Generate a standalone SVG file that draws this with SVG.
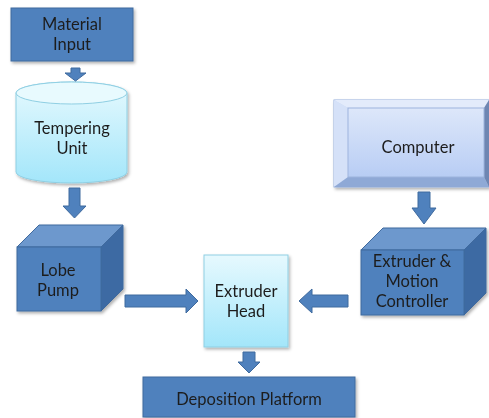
<svg xmlns="http://www.w3.org/2000/svg" width="489" height="418" viewBox="0 0 489 418">
  <defs>
    <linearGradient id="cyanFill" x1="0" y1="0" x2="0" y2="1">
      <stop offset="0" stop-color="#E6F9FE"/>
      <stop offset="1" stop-color="#A3E6FA"/>
    </linearGradient>
    <linearGradient id="lavFill" x1="0" y1="0" x2="0" y2="1">
      <stop offset="0" stop-color="#DDE7FA"/>
      <stop offset="1" stop-color="#B8CDF4"/>
    </linearGradient>
    <filter id="shadow" x="-10%" y="-10%" width="130%" height="130%">
      <feDropShadow dx="1.5" dy="2" stdDeviation="1.5" flood-color="#000" flood-opacity="0.3"/>
    </filter>
    <style>
      .blue { fill: #4F81BD; stroke: #3F6A9E; stroke-width: 1; }
      .top { fill: #6D98CD; stroke: #3F6A9E; stroke-width: 1; }
      .side { fill: #3E6BA3; stroke: #3F6A9E; stroke-width: 1; }
      .cyan { fill: url(#cyanFill); stroke: #8FCFE3; stroke-width: 1; }
      .arrow { fill: #4F81BD; stroke: #3F6A9E; stroke-width: 1; }
      .label { font-family: Lato, "Open Sans", "Liberation Sans", sans-serif; font-size: 16.5px; fill: #1E1E1E; text-anchor: middle; }
    </style>
  </defs>

  <rect width="489" height="418" fill="#FFFFFF"/>

  <!-- Material Input -->
  <g id="material-input" filter="url(#shadow)">
    <rect class="blue" x="11" y="8" width="122" height="53"/>
    <text class="label" x="72" y="30">Material</text>
    <text class="label" x="72" y="50">Input</text>
  </g>

  <!-- Tempering Unit (cylinder) -->
  <g id="tempering-unit" filter="url(#shadow)">
    <path class="cyan" d="M16,93 L16,172 A55.5,11 0 0 0 127,172 L127,93 A55.5,11 0 0 0 16,93 Z"/>
    <ellipse cx="71.5" cy="93" rx="55.5" ry="11" fill="#E8FAFE" stroke="#8FCFE3" stroke-width="1"/>
    <text class="label" x="72" y="134">Tempering</text>
    <text class="label" x="72" y="154">Unit</text>
  </g>

  <!-- Lobe Pump (cube) -->
  <g id="lobe-pump" filter="url(#shadow)">
    <polygon class="top" points="17,247 39,225 123,225 101,247"/>
    <polygon class="side" points="101,247 123,225 123,289 101,311"/>
    <rect class="blue" x="17" y="247" width="84" height="64"/>
    <text class="label" x="58" y="276">Lobe</text>
    <text class="label" x="58" y="296">Pump</text>
  </g>

  <!-- Computer (bevelled box) -->
  <g id="computer" filter="url(#shadow)">
    <rect x="334" y="100" width="155" height="87" fill="#C9D9F6" stroke="#93AEDB" stroke-width="1"/>
    <polygon points="334,100 489,100 484,108 348,108" fill="#E3EBFB"/>
    <polygon points="334,100 348,108 348,177 334,187" fill="#D5E1F8"/>
    <polygon points="334,187 348,177 484,177 489,187" fill="#8FA9D6"/>
    <polygon points="489,100 484,108 484,177 489,187" fill="#6E86B2"/>
    <rect x="348" y="108" width="136" height="69" fill="url(#lavFill)" stroke="#9DB4DD" stroke-width="1"/>
    <text class="label" x="418" y="153">Computer</text>
  </g>

  <!-- Extruder & Motion Controller (cube) -->
  <g id="motion-controller" filter="url(#shadow)">
    <polygon class="top" points="361,250 383,228 486,228 464,250"/>
    <polygon class="side" points="464,250 486,228 486,293 464,315"/>
    <rect class="blue" x="361" y="250" width="103" height="65"/>
    <text class="label" x="412" y="267">Extruder &amp;</text>
    <text class="label" x="412" y="287">Motion</text>
    <text class="label" x="412" y="307">Controller</text>
  </g>

  <!-- Extruder Head -->
  <g id="extruder-head" filter="url(#shadow)">
    <rect class="cyan" x="204" y="255" width="84" height="92"/>
    <text class="label" x="246" y="297">Extruder</text>
    <text class="label" x="246" y="317">Head</text>
  </g>

  <!-- Deposition Platform -->
  <g id="deposition-platform" filter="url(#shadow)">
    <rect class="blue" x="143" y="377" width="212" height="40"/>
    <text class="label" x="249" y="405">Deposition Platform</text>
  </g>

  <!-- Block-arrow connectors -->
  <g id="connectors">
    <polygon class="arrow" points="71,68 80,68 80,73 86,73 75.5,81 65,73 71,73"/>
    <polygon class="arrow" points="69,188 80,188 80,206 86,206 74.5,218 63,206 69,206"/>
    <polygon class="arrow" points="125,295 186,295 186,289 198,301 186,313 186,307 125,307"/>
    <polygon class="arrow" points="348,295 312,295 312,289 299,301 312,313 312,307 348,307"/>
    <polygon class="arrow" points="418,192 430,192 430,208 436,208 424,224 412,208 418,208"/>
    <polygon class="arrow" points="243,352 255,352 255,362 260,362 249,373 238,362 243,362"/>
  </g>
</svg>
